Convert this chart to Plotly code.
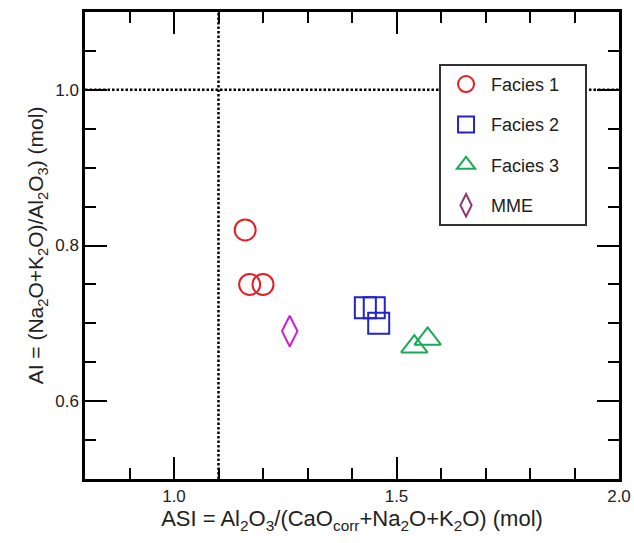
import plotly.graph_objects as go

# ---- data ----
f1_x = [1.16, 1.17, 1.20]
f1_y = [0.82, 0.75, 0.75]
f2_x = [1.43, 1.45, 1.46]
f2_y = [0.72, 0.72, 0.70]
f3_x = [1.54, 1.57]
f3_y = [0.67, 0.68]
mme_x = [1.26]
mme_y = [0.69]

asi_ref = 1.1
ai_ref = 1.0
x_range = [0.8, 2.0]
y_range = [0.5, 1.1]

FONT = "Liberation Sans, Arial, sans-serif"
PAD = "\u00a0" * 4

fig = go.Figure()

fig.add_trace(go.Scatter(
    x=f1_x, y=f1_y, mode="markers", name="Facies 1" + PAD, legendgroup="g1",
    marker=dict(symbol="circle-open", size=21, color="rgb(228,30,36)",
                line=dict(width=2, color="rgb(228,30,36)"))))
fig.add_trace(go.Scatter(
    x=f2_x, y=f2_y, mode="markers", name="Facies 2" + PAD, legendgroup="g2",
    marker=dict(symbol="square-open", size=21, color="rgb(35,35,200)",
                line=dict(width=2, color="rgb(35,35,200)"))))
fig.add_trace(go.Scatter(
    x=f3_x, y=f3_y, mode="markers", name="Facies 3" + PAD, legendgroup="g3",
    marker=dict(symbol="triangle-up-open", size=23, color="rgb(25,170,85)",
                line=dict(width=2, color="rgb(25,170,85)"))))
fig.add_trace(go.Scatter(
    x=mme_x, y=mme_y, mode="markers", name="MME", legendgroup="g4",
    showlegend=False,
    marker=dict(symbol="diamond-tall-open", size=22, color="rgb(205,30,210)",
                line=dict(width=2, color="rgb(205,30,210)"))))
fig.add_trace(go.Scatter(
    x=[None], y=[None], mode="markers", name="MME", legendgroup="g4",
    marker=dict(symbol="diamond-tall-open", size=22, color="rgb(140,55,120)",
                line=dict(width=2, color="rgb(140,55,120)"))))

# reference lines
fig.add_shape(type="line", x0=x_range[0], x1=x_range[1], y0=ai_ref, y1=ai_ref,
              xref="x", yref="y", line=dict(color="black", width=2.5, dash="2.5px,2px"))
fig.add_shape(type="line", x0=asi_ref, x1=asi_ref, y0=y_range[0], y1=y_range[1],
              xref="x", yref="y", line=dict(color="black", width=2.5, dash="2.5px,2px"))

axis_common = dict(
    showline=True, linewidth=2.5, linecolor="black", mirror="allticks",
    ticks="inside", ticklen=22, tickwidth=2, tickcolor="black",
    showgrid=False, zeroline=False, automargin=False,
    tickfont=dict(family=FONT, size=17, color="#222"),
    tickformat=".1f",
)

fig.update_xaxes(
    range=x_range, tick0=0, dtick=0.5,
    minor=dict(dtick=0.1, ticklen=11, tickwidth=2, tickcolor="black", ticks="inside", showgrid=False),
    title=dict(text="ASI = Al<sub>2</sub>O<sub>3</sub>/(CaO<sub>corr</sub>+Na<sub>2</sub>O+K<sub>2</sub>O) (mol)",
               standoff=6, font=dict(family=FONT, size=22, color="#222")),
    **axis_common)
fig.update_yaxes(
    range=y_range, tick0=0, dtick=0.2,
    minor=dict(dtick=0.05, ticklen=11, tickwidth=2, tickcolor="black", ticks="inside", showgrid=False),
    title=dict(text="AI = (Na<sub>2</sub>O+K<sub>2</sub>O)/Al<sub>2</sub>O<sub>3</sub>) (mol)",
               standoff=6, font=dict(family=FONT, size=21, color="#222")),
    **axis_common)

fig.update_layout(
    width=634, height=543,
    margin=dict(l=85, r=15, t=12, b=64, autoexpand=False),
    plot_bgcolor="white", paper_bgcolor="white",
    font=dict(family=FONT, color="#222"),
    legend=dict(
        x=0.663, y=0.889, xanchor="left", yanchor="top",
        bgcolor="white", bordercolor="#333", borderwidth=2,
        font=dict(family=FONT, size=18, color="#222"),
        itemwidth=40, tracegroupgap=14,
    ),
)

fig.write_html("out.html")
